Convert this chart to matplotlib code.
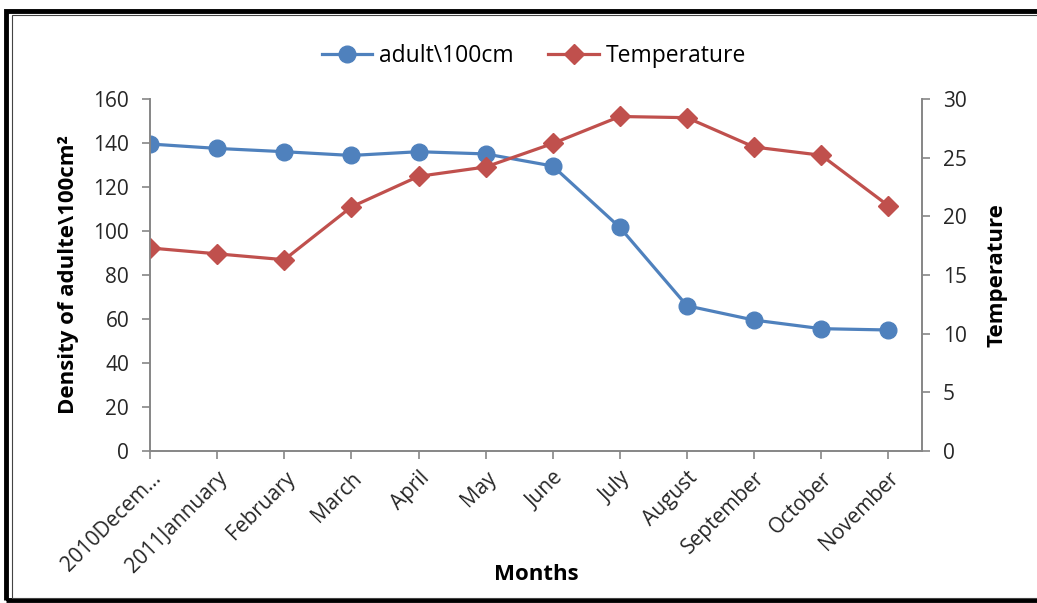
import matplotlib
matplotlib.use("Agg")
import matplotlib.pyplot as plt
from matplotlib.patches import Rectangle

plt.rcParams['font.family'] = ['Open Sans', 'DejaVu Sans']

# data
months = ["2010Decem...", "2011Jannuary", "February", "March", "April", "May",
          "June", "July", "August", "September", "October", "November"]
adult = [139.5, 137.5, 136, 134.3, 136, 135, 129.5, 101.6, 66, 59.5, 55.6, 55]
temperature = [17.3, 16.8, 16.3, 20.8, 23.4, 24.2, 26.2, 28.5, 28.4, 25.9, 25.2, 20.9]

blue = '#4F81BD'
red = '#C0504D'
grey = '#868686'

fig = plt.figure(figsize=(10.37, 6.03), dpi=100)
ax = fig.add_axes([0.1447, 0.252, 0.889 - 0.1447, 0.836 - 0.252])
ax2 = ax.twinx()

x = list(range(len(months)))
l1, = ax.plot(x, adult, color=blue, lw=2.3, marker='o', ms=12, label='adult\\100cm')
l2, = ax2.plot(x, temperature, color=red, lw=2.3, marker='D', ms=10, label='Temperature')

ax.set_xlim(0, 11.5)
ax.set_ylim(0, 160)
ax.set_yticks(range(0, 161, 20))
ax2.set_ylim(0, 30)
ax2.set_yticks(range(0, 31, 5))

ax.set_xticks(x)
ax.set_xticklabels(months, rotation=45, ha='right', rotation_mode='anchor')

for a in (ax, ax2):
    a.spines['top'].set_visible(False)
    for s in a.spines.values():
        s.set_color(grey)
        s.set_linewidth(1.2)
    a.tick_params(colors=grey, labelcolor='#262626', labelsize=15, length=6, width=1.2, pad=9)
ax.tick_params(axis='x', pad=6)

ax.set_ylabel('Density of adulte\\100cm²', fontsize=16, fontweight='bold', labelpad=10)
ax2.set_ylabel('Temperature', fontsize=16, fontweight='bold', labelpad=14)
ax.set_xlabel('Months', fontsize=16, fontweight='bold')
ax.xaxis.set_label_coords(0.5, -0.322)

fig.legend(handles=[l1, l2], loc='center', bbox_to_anchor=(0.515, 0.907), ncol=2,
           frameon=False, fontsize=16.5, handlelength=2.2, columnspacing=1.5,
           handletextpad=0.3)

# chart frame
fig.patches.append(Rectangle((0.006, 0.005), 1.0, 0.977, transform=fig.transFigure,
                             fill=False, edgecolor='black', lw=3.5))
fig.patches.append(Rectangle((0.012, 0.009), 1.0, 0.966, transform=fig.transFigure,
                             fill=False, edgecolor='#444444', lw=0.8))

fig.savefig('out.png', dpi=100)
